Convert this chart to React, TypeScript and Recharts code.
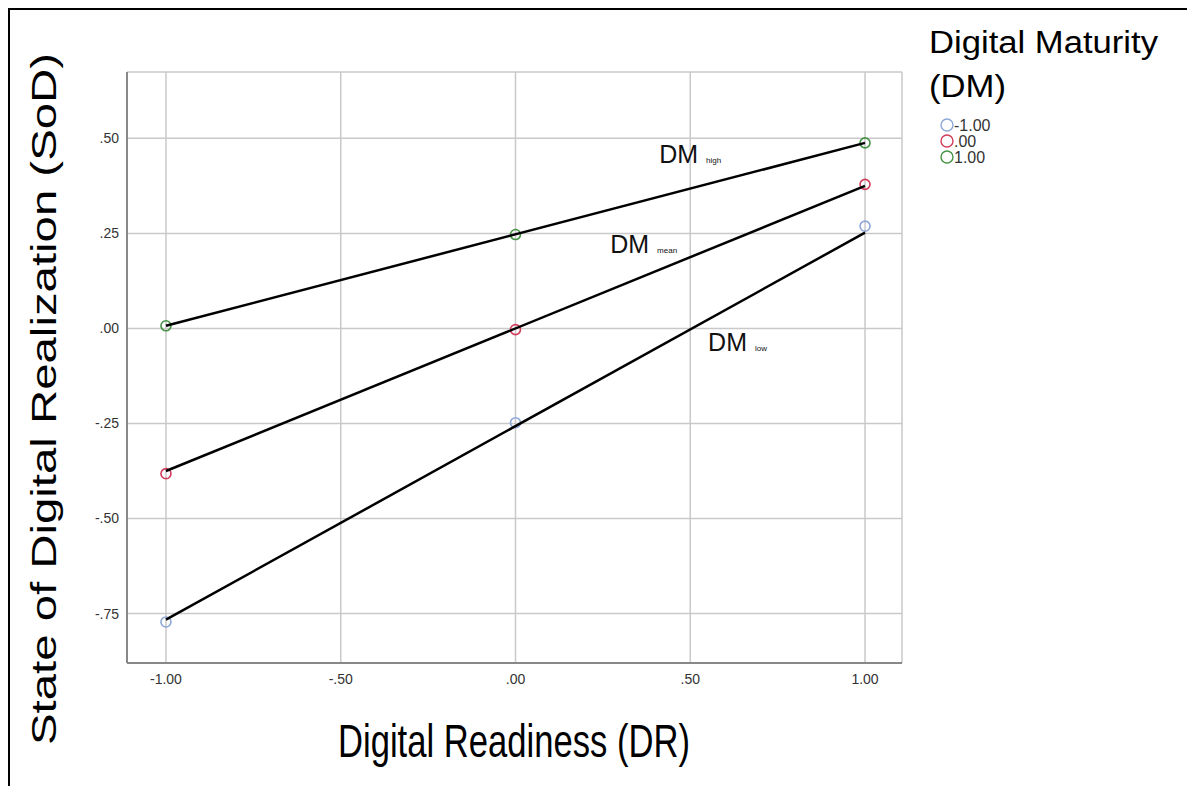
import { ScatterChart, Scatter, XAxis, YAxis, CartesianGrid } from "recharts"

// DM moderator levels (legend) and point colours
const dmLevels = ["-1.00", ".00", "1.00"]
const dmColors = ["#8ea7d9", "#d23c5a", "#459345"]

// observed points per DM level at DR = -1, 0, 1
const drValues = [-1, 0, 1]
const sodLow = [-0.772, -0.248, 0.269]
const sodMean = [-0.382, -0.003, 0.379]
const sodHigh = [0.007, 0.247, 0.488]

// fitted simple slopes (endpoints at DR = -1 and 1)
const fitX = [-1, 1]
const fitLow = [-0.766, 0.252]
const fitMean = [-0.375, 0.375]
const fitHigh = [0.007, 0.488]

// in-plot line labels
const lineLabels = ["high", "mean", "low"]
const labelX = [0.411, 0.271, 0.551]
const labelY = [0.435, 0.198, -0.06]

const xTicks = [-1, -0.5, 0, 0.5, 1]
const yTicks = [-0.75, -0.5, -0.25, 0, 0.25, 0.5]

const FONT = "'Liberation Sans', Arial, sans-serif"

const fmt = (v: number) => {
  const s = v.toFixed(2)
  return s.replace(/^0\./, ".").replace(/^-0\./, "-.")
}

const toPts = (xs: number[], ys: number[]) => xs.map((x, i) => ({ x, y: ys[i] }))

const pointSets = [sodLow, sodMean, sodHigh].map((ys) => toPts(drValues, ys))
const fitSets = [fitLow, fitMean, fitHigh].map((ys) => toPts(fitX, ys))
const labelData = lineLabels.map((sub, i) => ({ x: labelX[i], y: labelY[i], sub }))

const Empty = () => <g />

const LineLabel = (props: any) => {
  const { cx, cy, payload } = props
  return (
    <text x={cx} y={cy} fontFamily={FONT} fontSize={25} fill="#111">
      DM
      <tspan dx={8} fontSize={8}>
        {payload.sub}
      </tspan>
    </text>
  )
}

const W = 1187
const H = 778

export default function App() {
  return (
    <div style={{ position: "relative", width: W, height: H, background: "#fff" }}>
      <ScatterChart width={W} height={H} margin={{ top: 64, right: 293, bottom: 83, left: 39 }}>
        <CartesianGrid stroke="#c9c9c9" strokeWidth={1.5} />
        <XAxis
          type="number"
          dataKey="x"
          domain={[-1.1115, 1.1058]}
          ticks={xTicks}
          tickFormatter={fmt}
          allowDataOverflow
          height={40}
          tickLine={false}
          tickMargin={5}
          axisLine={{ stroke: "#888", strokeWidth: 2 }}
          tick={{ fill: "#333", fontSize: 14, fontFamily: FONT }}
        />
        <YAxis
          type="number"
          dataKey="y"
          domain={[-0.88, 0.6745]}
          ticks={yTicks}
          tickFormatter={fmt}
          allowDataOverflow
          width={80}
          tickLine={false}
          axisLine={{ stroke: "#888", strokeWidth: 2 }}
          tick={{ fill: "#333", fontSize: 14, fontFamily: FONT }}
        />
        {pointSets.map((d, i) => (
          <Scatter
            key={`pts-${i}`}
            data={d}
            isAnimationActive={false}
            shape={(p: any) => (
              <circle cx={p.cx} cy={p.cy} r={5} fill="none" stroke={dmColors[i]} strokeWidth={1.6} />
            )}
          />
        ))}
        {fitSets.map((d, i) => (
          <Scatter
            key={`fit-${i}`}
            data={d}
            isAnimationActive={false}
            line={{ stroke: "#000", strokeWidth: 2.5 }}
            shape={Empty}
          />
        ))}
        <Scatter data={labelData} isAnimationActive={false} shape={LineLabel} />
      </ScatterChart>
      <svg
        width={W}
        height={H}
        style={{ position: "absolute", left: 0, top: 0, pointerEvents: "none" }}
      >
        <text
          transform="translate(48,391) rotate(-90)"
          textAnchor="middle"
          fontFamily={FONT}
          fontSize={35}
          textLength={692}
          lengthAdjust="spacingAndGlyphs"
          fill="#000"
        >
          State of Digital Realization (SoD)
        </text>
        <text
          x={506}
          y={749}
          textAnchor="middle"
          fontFamily={FONT}
          fontSize={46}
          textLength={352}
          lengthAdjust="spacingAndGlyphs"
          fill="#000"
        >
          Digital Readiness (DR)
        </text>
        <text x={921} y={45} fontFamily={FONT} fontSize={31} textLength={229} lengthAdjust="spacingAndGlyphs" fill="#000">
          Digital Maturity
        </text>
        <text x={921} y={89} fontFamily={FONT} fontSize={31} textLength={77} lengthAdjust="spacingAndGlyphs" fill="#000">
          (DM)
        </text>
        {dmLevels.map((lab, i) => (
          <g key={lab}>
            <circle cx={939} cy={117 + i * 16} r={6} fill="none" stroke={dmColors[i]} strokeWidth={1.4} />
            <text x={946} y={123 + i * 16} fontFamily={FONT} fontSize={16} fill="#333">
              {lab}
            </text>
          </g>
        ))}
      </svg>
      <div
        style={{
          position: "absolute",
          left: 0,
          top: 0,
          width: W,
          height: H,
          boxSizing: "border-box",
          borderTop: "2px solid #000",
          borderLeft: "2px solid #000",
          pointerEvents: "none",
        }}
      />
    </div>
  )
}
